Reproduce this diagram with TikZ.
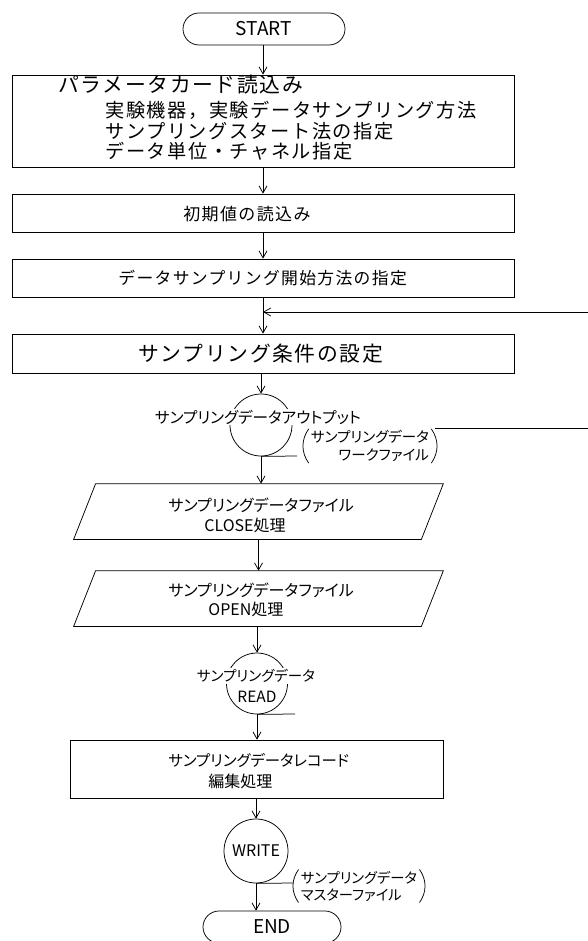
\documentclass[tikz,border=0pt]{standalone}
\usepackage{fontspec}
\newfontfamily\jp[LetterSpace=8]{Noto Sans CJK JP}
\newfontfamily\jpp[RawFeature=+palt]{Noto Sans CJK JP}
\newcommand\jpf[1]{\jp\fontsize{#1}{#1}\selectfont}
\newcommand\jpq[1]{\jpp\fontsize{#1}{#1}\selectfont}
\newcommand\jpqb[2]{\jpp\fontsize{#1}{#2}\selectfont}
\usetikzlibrary{arrows.meta,calc}
\begin{document}
\begin{tikzpicture}[x=1pt,y=-1pt,line width=0.75pt,
  arr/.style={-{Straight Barb[length=7pt,width=8pt,line width=0.75pt]}},
  procbox/.style={draw,rectangle,inner sep=0pt,minimum width=502pt},
  term/.style={draw,rectangle,rounded corners=16pt,inner sep=0pt,minimum height=32pt},
  conn/.style={draw,circle,inner sep=0pt,minimum size=62pt},
  txt/.style={inner sep=0pt,anchor=west},
  lbl/.style={fill=white,inner sep=1pt},
  para/.style={inner sep=0pt,minimum width=347pt,minimum height=55pt}]
\useasboundingbox (0,0) rectangle (588,941);
\clip (0,0) rectangle (588,941);

% START
\node[term,minimum width=162pt,font=\jpq{19}] (start) at (264,29) {START};

% box 1
\node[procbox,minimum height=92pt] (b1) at (263,121) {};
\node[txt,font=\jpf{20.8}] (b1a) at (58,85) {パラメータカード読込み};
\node[txt,font=\jpf{19.2}] (b1b) at (105,110) {実験機器，実験データサンプリング方法};
\node[txt,font=\jpf{19.2}] (b1c) at (105,131) {サンプリングスタート法の指定};
\node[txt,font=\jpf{19.2}] (b1d) at (105,151) {データ単位・チャネル指定};

% box 2
\node[procbox,minimum height=38pt] (b2) at (263,213) {};
\node[txt,font=\jpf{17}] (b2a) at (183,214) {初期値の読込み};

% box 3
\node[procbox,minimum height=38pt] (b3) at (263,278) {};
\node[txt,font=\jpf{16.8}] (b3a) at (118,278) {データサンプリング開始方法の指定};

% box 4
\node[procbox,minimum height=39pt] (b4) at (263,353.5) {};
\node[txt,font=\jpf{20.8}] (b4a) at (138,354) {サンプリング条件の設定};

% output connector
\node[conn] (out) at (261,425) {};
\node[lbl,font=\jpq{15.6}] (outl) at (258,417) {サンプリングデータアウトプット};
\coordinate (outt) at (297,456);
\draw (out.south) -- (outt);
\node[inner sep=1pt,align=right,font=\jpqb{14.5}{18}] (ann1) at (370,446) {サンプリングデータ\\ワークファイル};
\draw ([xshift=-1pt]ann1.north west) to[bend right=35] ([xshift=-1pt]ann1.south west);
\draw ([xshift=1pt]ann1.north east) to[bend left=35] ([xshift=1pt]ann1.south east);
\coordinate (loopout) at (588,428);
\draw ([xshift=5pt]ann1.east |- loopout) -- (loopout);

% parallelogram 1
\node[para] (p1) at (258.5,511.5) {};
\draw ([xshift=11pt]p1.north west) -- ([xshift=11pt]p1.north east) -- ([xshift=-11pt]p1.south east) -- ([xshift=-11pt]p1.south west) -- cycle;
\node[txt,font=\jpq{16}] (p1a) at (168,505) {サンプリングデータファイル};
\node[txt,font=\jpq{16}] (p1b) at (204,525) {CLOSE処理};

% parallelogram 2
\node[para] (p2) at (258.5,598.5) {};
\draw ([xshift=11pt]p2.north west) -- ([xshift=11pt]p2.north east) -- ([xshift=-11pt]p2.south east) -- ([xshift=-11pt]p2.south west) -- cycle;
\node[txt,font=\jpq{16}] (p2a) at (168,590) {サンプリングデータファイル};
\node[txt,font=\jpq{16}] (p2b) at (208,609) {OPEN処理};

% READ connector
\node[conn,minimum size=61pt] (rd) at (257,683.5) {};
\node[lbl,font=\jpq{14.5}] (rdl) at (256,676) {サンプリングデータ};
\node[inner sep=0pt,font=\jpq{15.5}] (rdt) at (257,697) {READ};
\coordinate (rdr) at (295,714);
\draw (rd.south) -- (rdr);

% box 5
\node[procbox,minimum width=373pt,minimum height=58pt] (b5) at (256.5,769) {};
\node[txt,font=\jpq{15.4}] (b5a) at (168,760) {サンプリングデータレコード};
\node[txt,font=\jpq{16}] (b5b) at (208,781) {編集処理};

% WRITE connector
\node[conn,minimum size=64pt,font=\jpq{16}] (wr) at (256,851) {WRITE};
\coordinate (wrr) at (293,883);
\draw (wr.south) -- (wrr);
\node[inner sep=1pt,align=left,font=\jpqb{14.3}{17}] (ann2) at (359,886) {サンプリングデータ\\マスターファイル};
\draw ([xshift=-1pt]ann2.north west) to[bend right=35] ([xshift=-1pt]ann2.south west);
\draw ([xshift=1pt]ann2.north east) to[bend left=35] ([xshift=1pt]ann2.south east);

% END
\node[term,minimum width=138pt,font=\jpq{19}] (end) at (272,927) {END};

% connectors
\draw[arr] (start.south -| b1.north) -- (b1.north);
\draw[arr] (b1.south) -- (b2.north);
\draw[arr] (b2.south) -- (b3.north);
\draw[arr] (b3.south) -- (b4.north);
\coordinate (loopin) at (588,312);
\draw[arr] (loopin) -- (loopin -| b3.south);
\draw[arr] (out.north |- b4.south) -- (out.north);
\draw[arr] (out.south) -- (out.south |- p1.north);
\draw[arr] (p1.south) -- (p2.north);
\draw[arr] (rd.north |- p2.south) -- (rd.north);
\draw[arr] (rd.south) -- (rd.south |- b5.north);
\draw[arr] (wr.north |- b5.south) -- (wr.north);
\draw[arr] (wr.south) -- (wr.south |- end.north);
\end{tikzpicture}
\end{document}
